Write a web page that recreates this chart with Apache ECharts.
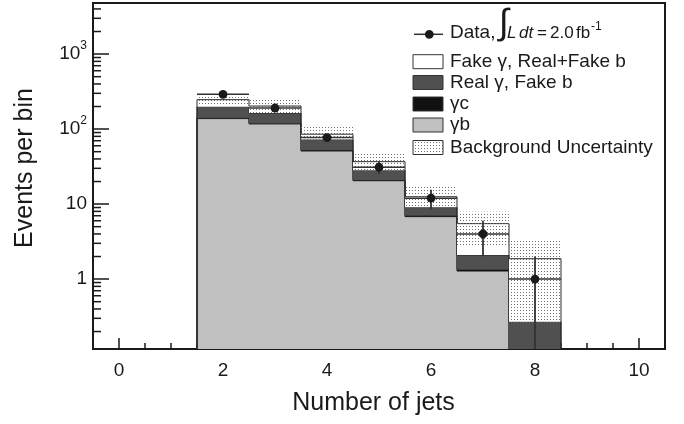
<!DOCTYPE html>
<html><head><meta charset="utf-8">
<script src="https://cdn.jsdelivr.net/npm/echarts@6/dist/echarts.min.js"></script>
<style>html,body{margin:0;padding:0;background:#fff}#c{width:684px;height:424px}</style>
</head><body><div id="c"></div>
<script>
// ---- data ----
const jets = [2, 3, 4, 5, 6, 7, 8];
const gammaB = [138, 117, 51, 20.5, 6.8, 1.28, 0];
const gammaC = [4, 3, 1.5, 0.6, 0.25, 0.06, 0.01];
const realGammaFakeB = [57, 44, 20, 7.2, 2.0, 0.75, 0.26];
const fakeGamma = [48, 39, 13, 8.5, 3.5, 3.4, 1.6];
const bandLow = [207, 164, 70, 28, 9.2, 2.84, 0.26];
const bandHigh = [273, 247, 107, 48, 17.9, 7.9, 3.3];
const dataVals = [291, 191, 77, 31, 12, 4, 1];
const dataErrLow = [17, 14, 9, 5.6, 3.5, 2, 1];
const dataErrHigh = [17, 14, 9, 5.6, 3.5, 2, 1];
const yTickLabels = {0: '1', 1: '10', 2: '10{s|2}', 3: '10{s|3}'};

// ---- settings ----
const yMin = 0.117, yMax = 4800, xMin = -0.5, xMax = 10.5;
const FONT = '"Liberation Sans", Arial, Helvetica, sans-serif';
const INK = '#1a1a1a';
const OUT = '#2a2a2a';

function cy(v) { return Math.max(v, yMin); }

// dotted pattern
const pc = document.createElement('canvas');
pc.width = 3; pc.height = 3;
const pctx = pc.getContext('2d');
pctx.fillStyle = '#707070';
pctx.fillRect(1, 1, 1, 1);
const dotPattern = {image: pc, repeat: 'repeat'};

const layers = [
  {name: 'γb', vals: gammaB, fill: '#c0c0c0'},
  {name: 'γc', vals: gammaC, fill: '#111111'},
  {name: 'Real γ, Fake b', vals: realGammaFakeB, fill: '#505050'},
  {name: 'Fake γ, Real+Fake b', vals: fakeGamma, fill: '#ffffff'}
];
const running = jets.map(() => 0);
const stackSeries = layers.map(L => {
  const lo = running.slice();
  L.vals.forEach((v, i) => running[i] += v);
  const hi = running.slice();
  const data = jets.map((j, i) => [j, lo[i], hi[i], i === 0 ? yMin : hi[i - 1], i === jets.length - 1 ? 1 : 0]);
  return {
    type: 'custom', name: L.name, clip: true, data: data,
    renderItem: function (params, api) {
      const x = api.value(0), lo = api.value(1), hi = api.value(2), prev = api.value(3), last = api.value(4);
      const p0 = api.coord([x - 0.5, cy(lo)]);
      const p1 = api.coord([x + 0.5, cy(hi)]);
      const pp = api.coord([x - 0.5, cy(prev)]);
      const pb = api.coord([x + 0.5, yMin]);
      const pts = [[p0[0], pp[1]], [p0[0], p1[1]], [p1[0], p1[1]]];
      if (last) pts.push([p1[0], pb[1]]);
      return {type: 'group', children: [
        {type: 'rect', shape: {x: p0[0], y: p1[1], width: p1[0] - p0[0], height: p0[1] - p1[1]}, style: {fill: L.fill}},
        {type: 'polyline', shape: {points: pts}, style: {stroke: OUT, lineWidth: 1, fill: null}}
      ]};
    }
  };
});

const bandSeries = {
  type: 'custom', name: 'Background Uncertainty', clip: true,
  data: jets.map((j, i) => [j, bandLow[i], bandHigh[i]]),
  renderItem: function (params, api) {
    const x = api.value(0);
    const p0 = api.coord([x - 0.5, cy(api.value(1))]);
    const p1 = api.coord([x + 0.5, cy(api.value(2))]);
    return {type: 'rect', shape: {x: p0[0], y: p1[1], width: p1[0] - p0[0], height: p0[1] - p1[1]}, style: {fill: dotPattern}};
  }
};

const dataSeries = {
  type: 'custom', name: 'Data', clip: true,
  data: jets.map((j, i) => [j, dataVals[i], dataVals[i] - dataErrLow[i], dataVals[i] + dataErrHigh[i]]),
  renderItem: function (params, api) {
    const x = api.value(0), v = api.value(1);
    const c = api.coord([x, v]);
    const l = api.coord([x - 0.5, v]), r = api.coord([x + 0.5, v]);
    const t = api.coord([x, cy(api.value(3))]), b = api.coord([x, cy(api.value(2))]);
    return {type: 'group', children: [
      {type: 'line', shape: {x1: l[0], y1: l[1], x2: r[0], y2: r[1]}, style: {stroke: '#333', lineWidth: 1.5}},
      {type: 'line', shape: {x1: t[0], y1: t[1], x2: b[0], y2: b[1]}, style: {stroke: '#333', lineWidth: 1.8}},
      {type: 'circle', shape: {cx: c[0], cy: c[1], r: 4.4}, style: {fill: INK}}
    ]};
  }
};

// minor ticks of the log axis (2..9 in each decade)
const minorY = [];
for (let e = -1; e <= 3; e++) for (let m = 2; m <= 9; m++) {
  const v = m * Math.pow(10, e);
  if (v > yMin && v < yMax) minorY.push([xMin, v]);
}
const minorTickSeries = {
  type: 'custom', silent: true, data: minorY,
  renderItem: function (params, api) {
    const p = api.coord([api.value(0), api.value(1)]);
    return {type: 'line', shape: {x1: p[0], y1: p[1], x2: p[0] + 8, y2: p[1]}, style: {stroke: INK, lineWidth: 1.5}};
  }
};

// legend (graphic)
const LX = 413, LW = 30, LH = 14, TX = 450;
const legendRows = [
  {y: 61.7, text: 'Fake γ, Real+Fake b', fill: '#ffffff'},
  {y: 82.5, text: 'Real γ, Fake b', fill: '#505050'},
  {y: 104, text: 'γc', fill: '#111111'},
  {y: 125, text: 'γb', fill: '#c0c0c0'},
  {y: 147.5, text: 'Background Uncertainty', fill: dotPattern}
];
const legendEls = [];
legendRows.forEach(r => {
  if (r.fill === dotPattern) legendEls.push({type: 'rect', shape: {x: LX, y: r.y - LH / 2, width: LW, height: LH}, style: {fill: '#fff'}});
  legendEls.push({type: 'rect', shape: {x: LX, y: r.y - LH / 2, width: LW, height: LH}, style: {fill: r.fill, stroke: '#333', lineWidth: 1}});
  legendEls.push({type: 'text', x: TX, y: r.y, style: {text: r.text, font: '19px ' + FONT, fill: INK, textVerticalAlign: 'middle'}});
});
const T = (x, y, text, font) => ({type: 'text', x: x, y: y, style: {text: text, font: font, fill: INK, textVerticalAlign: 'middle'}});
legendEls.push({type: 'line', shape: {x1: 414, y1: 34.3, x2: 443, y2: 34.3}, style: {stroke: '#333', lineWidth: 1.5}});
legendEls.push({type: 'circle', shape: {cx: 429.3, cy: 34.3, r: 4.4}, style: {fill: INK}});
legendEls.push(T(TX, 33, 'Data,', '19px ' + FONT));
legendEls.push(T(499, 24, '∫', '36px ' + FONT));
legendEls.push(T(507, 33, 'L', 'italic 17px ' + FONT));
legendEls.push(T(519, 33, 'dt', 'italic 17px ' + FONT));
legendEls.push(T(537, 33, '=', '17px ' + FONT));
legendEls.push(T(550, 33, '2.0', '17px ' + FONT));
legendEls.push(T(576, 33, 'fb', '17px ' + FONT));
legendEls.push(T(591, 27, '-1', '12px ' + FONT));

const chart = echarts.init(document.getElementById('c'), null, {renderer: 'canvas'});
chart.setOption({
  backgroundColor: '#fff',
  animation: false,
  grid: {left: 93, right: 19, top: 3, bottom: 75, show: true, borderColor: INK, borderWidth: 2, backgroundColor: 'transparent'},
  xAxis: {
    type: 'value', min: xMin, max: xMax,
    axisLine: {show: true, onZero: false, lineStyle: {color: INK, width: 2}},
    axisTick: {show: true, inside: true, length: 11, lineStyle: {color: INK, width: 1.5}},
    minorTick: {show: true, splitNumber: 4, length: 6, lineStyle: {color: INK, width: 1.5}},
    splitLine: {show: false}, minorSplitLine: {show: false},
    axisLabel: {margin: 12, color: INK, fontFamily: FONT, fontSize: 19, showMinLabel: false, showMaxLabel: false},
    name: 'Number of jets', nameLocation: 'middle', nameGap: 42,
    nameTextStyle: {color: INK, fontFamily: FONT, fontSize: 25, padding: [0, 11, 0, 0]}
  },
  yAxis: {
    type: 'log', logBase: 10, min: yMin, max: yMax,
    axisLine: {show: true, onZero: false, lineStyle: {color: INK, width: 2}},
    axisTick: {show: true, inside: true, length: 16, lineStyle: {color: INK, width: 1.5}},
    minorTick: {show: false}, splitLine: {show: false},
    axisLabel: {
      margin: 6, color: INK, fontFamily: FONT, fontSize: 19, lineHeight: 28,
      showMinLabel: false, showMaxLabel: false,
      formatter: function (v) {
        const e = Math.round(Math.log10(v));
        if (Math.abs(Math.log10(v) - e) > 1e-6) return '';
        return yTickLabels[e] !== undefined ? yTickLabels[e] : '';
      },
      rich: {s: {fontSize: 12, lineHeight: 12, verticalAlign: 'top', color: INK, fontFamily: FONT}}
    },
    name: 'Events per bin', nameLocation: 'middle', nameGap: 55,
    nameTextStyle: {color: INK, fontFamily: FONT, fontSize: 25, padding: [0, 0, 0, 16]}
  },
  graphic: legendEls,
  series: stackSeries.concat([bandSeries, dataSeries, minorTickSeries])
});
</script></body></html>
